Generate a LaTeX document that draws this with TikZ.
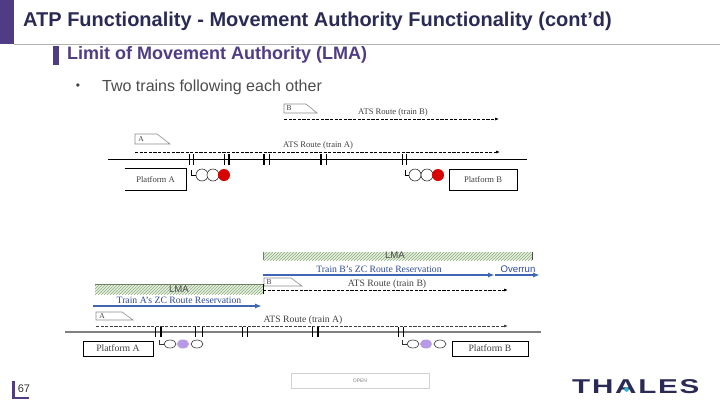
\documentclass[tikz,border=0pt]{standalone}
\usepackage{fontspec}
\setmainfont{Liberation Sans}
\newfontfamily\serifrm{Liberation Serif}
\usetikzlibrary{patterns,arrows.meta}
\definecolor{navy}{HTML}{2B2A55}
\definecolor{thpurple}{HTML}{503C85}
\definecolor{bluearrow}{HTML}{3F66B5}
\definecolor{bluetext}{HTML}{2E4A96}
\definecolor{lmagreen}{HTML}{8DB07A}
\definecolor{lmabar}{HTML}{6F7F62}
\definecolor{sigpurple}{HTML}{B79AE6}
\definecolor{trackgray}{HTML}{808080}
\definecolor{thdot}{HTML}{2FB5D0}
\tikzset{
  x=1pt,y=-1pt,
  lab/.style={font=\serifrm\fontsize{8.6}{9}\selectfont,text=black!75,inner sep=0pt},
  lablow/.style={font=\serifrm\fontsize{9.7}{10}\selectfont,text=black!75,inner sep=0pt},
  trainlab/.style={font=\serifrm\fontsize{7.5}{8}\selectfont,text=black!75,inner sep=0pt},
  sanslab/.style={font=\fontsize{9.6}{10}\selectfont,inner sep=0pt},
  platbox/.style={line width=0.9pt,fill=white,inner sep=0pt,text=black!75},
  route/.style={line width=0.7pt,dash pattern=on 3.2pt off 1.4pt,-{Latex[length=4pt,width=3pt]}},
  resv/.style={draw=bluearrow,line width=1.5pt,-{Latex[length=7pt,width=5pt]}},
  joint/.style={line width=0.7pt},
  thickjoint/.style={line width=1.5pt},
  lamp/.style={draw=black!80,line width=0.6pt,fill=white},
  lmahatch/.style={preaction={fill=lmagreen!22},pattern=north east lines,pattern color=lmagreen},
  train/.style={draw=black!45,line width=0.6pt,fill=white},
}
\begin{document}
\begin{tikzpicture}
\useasboundingbox (0,0) rectangle (720,405);
% header
\fill[thpurple] (0,0) rectangle (14,44);
\draw[black!30,line width=0.7pt] (14,44) -- (720,44);
\node[anchor=west,inner sep=0pt,text=navy,font=\bfseries\fontsize{20}{22}\selectfont] (title) at (23,21) {ATP Functionality - Movement Authority Functionality (cont’d)};
\fill[thpurple] (53,46) rectangle (59,65);
\node[anchor=west,inner sep=0pt,text=thpurple,font=\bfseries\fontsize{18}{20}\selectfont] (sub) at (67,55) {Limit of Movement Authority (LMA)};
\node[inner sep=0pt,text=black!75,font=\fontsize{12}{14}\selectfont] (bul) at (78,87) {•};
\node[anchor=west,inner sep=0pt,text=black!70,font=\fontsize{16}{18}\selectfont] (bt) at (102,87) {Two trains following each other};

% upper diagram
\draw[train] (284,113) -- (284,104) -- (306,104) -- (317,113) -- cycle;
\node[trainlab] (ub) at (289,108.5) {B};
\coordinate (ubs) at (284,119); \coordinate (ube) at (499,119);
\draw[route] (ubs) -- (ube);
\node[lab] (ubl) at (393,112) {ATS Route (train B)};
\draw[train] (135,144) -- (135,134) -- (157,134) -- (170,144) -- cycle;
\node[trainlab] (ua) at (141,139) {A};
\coordinate (uas) at (135,152); \coordinate (uae) at (500,152);
\draw[route] (uas) -- (uae);
\node[lab] (ual) at (318,145) {ATS Route (train A)};
\coordinate (uts) at (108,159); \coordinate (ute) at (527,159);
\draw[black,line width=0.8pt] (uts) -- (ute);
\foreach \x in {189,193.5,224,269,326,402,406.5}{\draw[joint] (\x,154) -- (\x,165);}
\foreach \x in {229,264,321}{\draw[thickjoint] (\x,154) -- (\x,165);}
\node[platbox,lab,minimum width=61pt,minimum height=21pt] (upa) at (155.5,179.5) {Platform A};
\draw[black,line width=0.9pt] (upa.north west) -- (upa.north east) -- (upa.south east) -- (upa.south west);
\node[platbox,lab,draw=black,minimum width=68pt,minimum height=21pt] (upb) at (483,179.5) {Platform B};
\draw[black,line width=0.7pt] (191,170) -- (191,175) -- (197,175);
\draw[lamp] (202,175) circle[radius=6];
\draw[lamp] (213,175) circle[radius=6];
\fill[red!85!black] (224,175) circle[radius=6];
\draw[black,line width=0.9pt] (405,170) -- (405,175) -- (410,175);
\draw[lamp] (415,175) circle[radius=6];
\draw[lamp] (427,175) circle[radius=6];
\fill[red!85!black] (438,175) circle[radius=6];

% lower diagram
\fill[lmahatch] (263,252) rectangle (532,260);
\draw[lmabar,line width=0.9pt] (263,252) -- (263,260);
\draw[black!70,line width=0.9pt] (532,252) -- (532,260);
\node[sanslab,text=black!70] (lmab) at (395,255.5) {LMA};
\coordinate (rbs) at (263,275); \coordinate (rbe) at (495,275); \coordinate (obe) at (540,275);
\draw[resv] (rbs) -- (rbe);
\draw[resv] (rbe) -- (obe);
\node[lablow,text=bluetext] (rbl) at (379,269) {Train B’s ZC Route Reservation};
\node[sanslab,text=bluetext] (ov) at (518,269) {Overrun};
\draw[train] (264,286) -- (264,278) -- (291,278) -- (302,286) -- cycle;
\node[trainlab] (lb) at (269,282) {B};
\coordinate (lbs) at (263,290); \coordinate (lbe) at (508,290);
\draw[route] (lbs) -- (lbe);
\draw[black,line width=0.7pt] (263,284) -- (263,294);
\node[lablow] (lbl) at (387,284) {ATS Route (train B)};
\fill[lmahatch] (95,285) rectangle (263,294);
\draw[lmabar,line width=1.5pt] (95,284.5) -- (263,284.5);
\node[sanslab,text=black!70] (lmaa) at (179,289.5) {LMA};
\coordinate (ras) at (93,306); \coordinate (rae) at (262,306);
\draw[resv] (ras) -- (rae);
\node[lablow,text=bluetext] (ral) at (179,300) {Train A’s ZC Route Reservation};
\draw[train] (96,320) -- (96,312) -- (122,312) -- (133,320) -- cycle;
\node[trainlab] (la) at (102,316) {A};
\coordinate (las) at (96,326); \coordinate (lae) at (508,326);
\draw[route,draw=black!75] (las) -- (lae);
\node[lablow] (lal) at (303,320.5) {ATS Route (train A)};
\coordinate (lts) at (65,332); \coordinate (lte) at (541,332);
\draw[trackgray,line width=1.5pt] (lts) -- (lte);
\foreach \x in {155,195,202,242,247,312,398,403}{\draw[joint] (\x,327) -- (\x,337);}
\foreach \x in {161,318}{\draw[thickjoint] (\x,327) -- (\x,337);}
\node[platbox,lablow,draw=black,minimum width=70pt,minimum height=15pt] (lpa) at (118,348.5) {Platform A};
\node[platbox,lablow,draw=black,minimum width=76pt,minimum height=15pt] (lpb) at (490,348.5) {Platform B};
\draw[black!80,line width=0.6pt] (159,340) -- (159,344) -- (165,344);
\draw[lamp] (170,344) ellipse[x radius=6,y radius=4];
\draw[lamp] (197,344) ellipse[x radius=6,y radius=4];
\fill[sigpurple] (183,344) ellipse[x radius=6,y radius=4.5];
\draw[black!80,line width=0.6pt] (402,340) -- (402,344) -- (408,344);
\draw[lamp] (413,344) ellipse[x radius=6,y radius=4];
\draw[lamp] (440,344) ellipse[x radius=6,y radius=4];
\fill[sigpurple] (426,344) ellipse[x radius=6,y radius=4.5];

% footer
\fill[thpurple] (12,381) rectangle (15,399);
\fill[thpurple] (12,396.5) rectangle (29,399);
\node[inner sep=0pt,text=black!80,font=\fontsize{11}{12}\selectfont] (pg) at (24,389) {67};
\node[draw=black!18,line width=0.8pt,minimum width=138pt,minimum height=15pt,inner sep=0pt,text=black!50,font=\fontsize{5}{6}\selectfont] (open) at (360,380.5) {OPEN};
\node[anchor=west,inner sep=0pt,text=navy,font=\bfseries\fontsize{20}{22}\selectfont\addfontfeatures{LetterSpace=6}] (th) at (572,386.5) {\scalebox{1.48}[1]{THALES}};
\fill[thdot] (626.5,389.5) circle[radius=2.3];
\end{tikzpicture}
\end{document}
